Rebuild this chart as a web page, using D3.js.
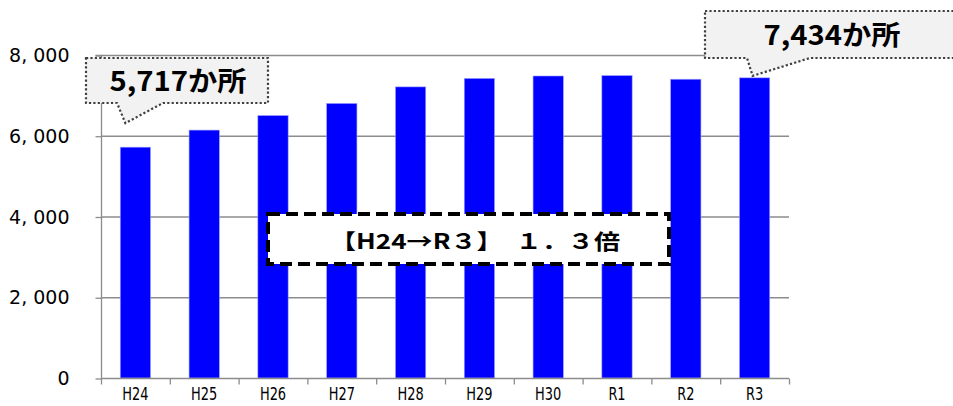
<!DOCTYPE html>
<html><head><meta charset="utf-8">
<script src="https://cdn.jsdelivr.net/npm/d3@7"></script>
<style>body{margin:0;background:#fff}svg{display:block}</style>
</head><body>
<svg id="c" width="953" height="406"></svg>
<script>
const categories = ["H24","H25","H26","H27","H28","H29","H30","R1","R2","R3"];
const values = [5717, 6140, 6500, 6800, 7210, 7420, 7480, 7490, 7400, 7434];
const yTicks = [0, 2000, 4000, 6000, 8000];
const yTickLabels = ["0", "2, 000", "4, 000", "6, 000", "8, 000"];
const firstLabel = "5,717か所";
const lastLabel = "7,434か所";
const ratioLabel = "【H24→R３】　１．３倍";

const svg = d3.select("#c");
const x = d3.scaleBand().domain(categories).range([101, 789]).paddingInner(0.56).paddingOuter(0.28);
const y = d3.scaleLinear().domain([0, 8000]).range([378, 55]);
const jp = "'Noto Sans CJK JP','Noto Sans',sans-serif";

// gridlines
svg.append("g").selectAll("line").data(yTicks.filter(d=>d>0)).join("line")
  .attr("x1", 101).attr("x2", 789).attr("y1", d=>y(d)+0.5).attr("y2", d=>y(d)+0.5)
  .attr("stroke", "#8c8c8c").attr("stroke-width", 1.3);

// bars
svg.append("g").selectAll("rect").data(values).join("rect")
  .attr("x", (d,i)=>x(categories[i])).attr("width", x.bandwidth())
  .attr("y", d=>y(d)).attr("height", d=>y(0)-y(d))
  .attr("fill", "#0000ff").attr("stroke", "#9d9dff").attr("stroke-width", 0.6);

// y axis
const ya = svg.append("g").attr("transform", "translate(101.5,0.5)")
  .call(d3.axisLeft(y).tickValues(yTicks).tickSize(6).tickPadding(26).tickFormat((d,i)=>yTickLabels[i]));
ya.select(".domain").attr("stroke", "#8c8c8c").attr("stroke-width", 1.3).attr("d", `M-6,${y(8000)}H0V${y(0)}`);
ya.selectAll(".tick line").attr("stroke", "#8c8c8c").attr("stroke-width", 1.3);
ya.selectAll(".tick text").attr("font-family", "'DejaVu Sans',sans-serif").attr("font-size", 19).attr("fill", "#000");

// x axis
const xa = svg.append("g").attr("transform", `translate(0,${y(0)+0.5})`)
  .call(d3.axisBottom(x).tickSize(0).tickPadding(12));
xa.select(".domain").attr("stroke", "#8c8c8c").attr("stroke-width", 1.3).attr("d", "M101,0H789");
xa.selectAll(".tick").each(function(d){
  const t = d3.select(this);
  const cx = x(d) + x.bandwidth()/2;
  t.attr("transform", null);
  t.select("line").remove();
  t.select("text")
    .attr("font-family", "'DejaVu Sans',sans-serif").attr("font-size", 18).attr("fill", "#000")
    .attr("y", 0).attr("dy", null).attr("dominant-baseline", "central")
    .attr("transform", `translate(${cx},15.5) scale(0.72,1)`);
});
const bounds = d3.range(categories.length+1).map(i => 101 + i*(688/categories.length));
xa.append("g").selectAll("line").data(bounds).join("line")
  .attr("x1", d=>d+0.5).attr("x2", d=>d+0.5).attr("y1", 0).attr("y2", 6)
  .attr("stroke", "#8c8c8c").attr("stroke-width", 1.3);

// callouts
function callout(x0, y0, x1, y1, bx0, bx1, tx, ty, label, lx, ly) {
  const path = `M${x0},${y0}H${x1}V${y1}H${bx1}L${tx},${ty}L${bx0},${y1}H${x0}Z`;
  svg.append("path").attr("d", path).attr("fill", "#f2f2f2")
    .attr("stroke", "#404040").attr("stroke-width", 2.2).attr("stroke-dasharray", "2.2,2.2");
  svg.append("text").attr("x", lx).attr("y", ly).attr("text-anchor", "middle")
    .attr("font-family", jp).attr("font-weight", "bold").attr("font-size", 27).attr("fill", "#000")
    .attr("dominant-baseline", "central").attr("textLength", 137).attr("lengthAdjust", "spacingAndGlyphs")
    .text(label);
}
const b0 = x(categories[0]) + x.bandwidth()/2;
const bN = x(categories[categories.length-1]) + x.bandwidth()/2;
callout(86, 58, 268, 103, 117, 163, b0-10, y(values[0])-24, firstLabel, 178, 79);
callout(705, 11, 960, 58, 747, 810, bN-2, y(values[values.length-1])-2, lastLabel, 832, 33);

// ratio box
svg.append("rect").attr("x", 268).attr("y", 214).attr("width", 401).attr("height", 50)
  .attr("fill", "#fff").attr("stroke", "#000").attr("stroke-width", 4).attr("stroke-dasharray", "12,6");
svg.append("text").attr("x", 475).attr("y", 240).attr("text-anchor", "middle").attr("dominant-baseline", "central")
  .attr("font-family", jp).attr("font-weight", "bold").attr("font-size", 21).attr("fill", "#000")
  .attr("textLength", 290).attr("lengthAdjust", "spacingAndGlyphs")
  .text(ratioLabel);
</script>
</body></html>
